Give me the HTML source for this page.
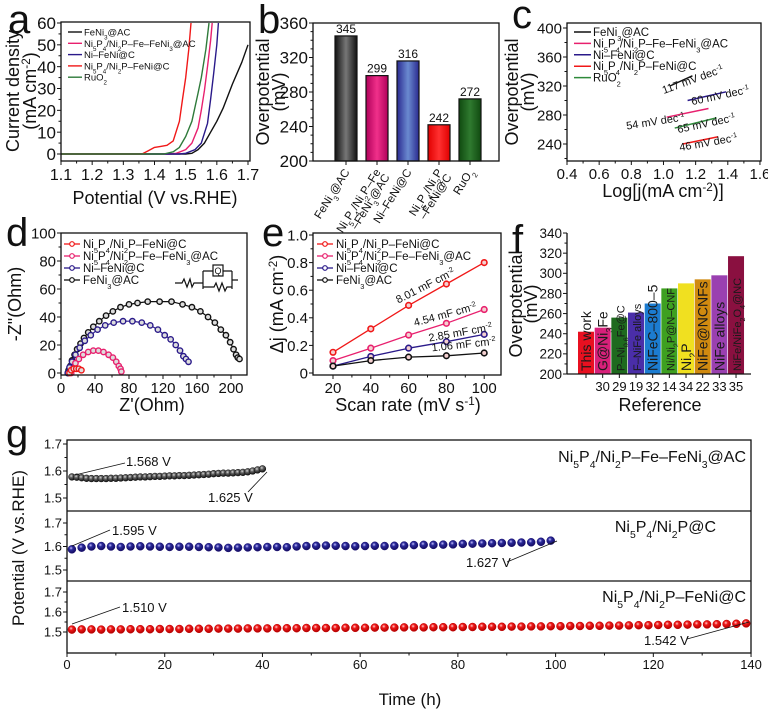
<!DOCTYPE html>
<html><head><meta charset="utf-8">
<style>
html,body{margin:0;padding:0;background:#fff;}
svg{display:block;font-family:"Liberation Sans",Arial,sans-serif;}
</style></head>
<body>
<svg id="chart" width="768" height="711" viewBox="0 0 768 711" xmlns="http://www.w3.org/2000/svg">
<defs>
<radialGradient id="gk" cx="40%" cy="35%" r="65%"><stop offset="0" stop-color="#ddd"/><stop offset="0.35" stop-color="#666"/><stop offset="1" stop-color="#111"/></radialGradient>
<radialGradient id="gb" cx="40%" cy="35%" r="65%"><stop offset="0" stop-color="#c8c0ff"/><stop offset="0.35" stop-color="#2a2a9a"/><stop offset="1" stop-color="#140a60"/></radialGradient>
<radialGradient id="gr" cx="40%" cy="35%" r="65%"><stop offset="0" stop-color="#ffd0d0"/><stop offset="0.35" stop-color="#f01818"/><stop offset="1" stop-color="#b00000"/></radialGradient>
<linearGradient id="bk"><stop offset="0" stop-color="#111"/><stop offset="0.5" stop-color="#777"/><stop offset="1" stop-color="#111"/></linearGradient>
<linearGradient id="bm"><stop offset="0" stop-color="#b0005a"/><stop offset="0.5" stop-color="#f0308a"/><stop offset="1" stop-color="#b0005a"/></linearGradient>
<linearGradient id="bb"><stop offset="0" stop-color="#2a2a90"/><stop offset="0.5" stop-color="#6a8ad0"/><stop offset="1" stop-color="#2a2a90"/></linearGradient>
<linearGradient id="br"><stop offset="0" stop-color="#e00000"/><stop offset="0.5" stop-color="#ff3030"/><stop offset="1" stop-color="#e00000"/></linearGradient>
<linearGradient id="bg"><stop offset="0" stop-color="#104a10"/><stop offset="0.5" stop-color="#2f7a2f"/><stop offset="1" stop-color="#104a10"/></linearGradient>
</defs>
</svg>
<script>
// ---------- DATA ----------
const aNames = ['FeNi_3@AC','Ni_5P_4/Ni_2P–Fe–FeNi_3@AC','Ni–FeNi@C','Ni_5P_4/Ni_2P–FeNi@C','RuO_2'];
const aBlackV = [1.1,1.5,1.52,1.54,1.56,1.58,1.60,1.62,1.65,1.68,1.70];
const aBlackJ = [0,0,0.3,2,5,10,15,21,32,42,50];
const aPinkV = [1.1,1.45,1.47,1.50,1.52,1.54,1.55,1.56,1.57,1.58,1.585];
const aPinkJ = [0,0,0.3,2,5,12,20,29,40,52,60];
const aBlueV = [1.1,1.48,1.50,1.53,1.55,1.57,1.58,1.59,1.60,1.605];
const aBlueJ = [0,0,0.3,2,5,14,25,37,50,60];
const aRedV = [1.1,1.36,1.38,1.40,1.42,1.44,1.46,1.48,1.49,1.50,1.51,1.517];
const aRedJ = [0,0,1.5,3,3.5,4,6,15,25,35,48,60];
const aGreenV = [1.1,1.43,1.46,1.48,1.50,1.52,1.54,1.55,1.565,1.575];
const aGreenJ = [0,0,1,3,8,15,28,35,48,60];
const bCats = ['FeNi_3@AC','Ni_5P_4/Ni_2P–Fe|–FeNi_3@AC','Ni–FeNi@C','Ni_5P_4/Ni_2P|–FeNi@C','RuO_2'];
const bVals = [345,299,316,242,272];
const cX0 = [1.04,1.02,1.15,1.12,1.07];
const cX1 = [1.18,1.28,1.39,1.34,1.33];
const cY0 = [320,277,300,240,262];
const cY1 = [334,289,312,250,276];
const cSlopes = ['117','54','60','46','65'];
const dRedX = [10,12,15,18,21,24];
const dRedY = [0,2,3,3,3,2];
const dPinkX = [12,14,17,21,26,32,38,44,50,56,61,65,68,70,71];
const dPinkY = [0,3,7,10,13,15,16,16,15,13,11,8,5,3,1];
const dBlueX = [8,10,13,17,22,28,35,43,52,62,73,84,95,105,114,122,129,135,140,144,147,150];
const dBlueY = [0,4,8,13,18,23,27,31,34,36,37,37,36,34,31,27,24,20,16,12,10,8];
const dBlackX = [8,9,11,13,16,19,23,27,32,38,45,53,61,70,80,90,102,116,130,143,154,164,173,181,188,194,199,203,206,208,210];
const dBlackY = [0,2,5,9,13,17,21,25,29,33,37,41,44,47,49,50,51,51,51,49,47,44,40,36,31,27,22,17,13,11,10];
const eRates = [20,40,60,80,100];
const eRed = [0.15,0.32,0.49,0.645,0.80];
const ePink = [0.09,0.18,0.275,0.36,0.46];
const eBlue = [0.05,0.12,0.18,0.227,0.28];
const eBlack = [0.05,0.09,0.115,0.125,0.145];
const eCdl = ['8.01','4.54','2.85','1.06'];
const fLabels = ['This work','G@Ni_3Fe','P–Ni_{0.6}Fe@C','F–NiFe alloys','NiFeC–800–5','Ni/Ni_2P@N–CNF','Ni_2P','NiFe@NCNFs','NiFe alloys','NiFe/NiFe_2O_4@NC'];
const fRefs = ['','30','29','19','32','14','34','22','33','35'];
const fVals = [242,246,256,261,270,285,290,294,298,317];
const gBlack = [1.578,1.577,1.575,1.573,1.572,1.572,1.572,1.572,1.573,1.573,1.574,1.575,1.576,1.577,1.578,1.578,1.579,1.580,1.580,1.581,1.582,1.582,1.583,1.583,1.584,1.585,1.586,1.587,1.588,1.590,1.591,1.592,1.592,1.593,1.594,1.595,1.597,1.600,1.604,1.608];
const gBlue = [1.588,1.595,1.600,1.602,1.600,1.598,1.600,1.601,1.600,1.599,1.598,1.599,1.599,1.598,1.597,1.596,1.594,1.595,1.596,1.597,1.598,1.598,1.597,1.600,1.602,1.603,1.604,1.603,1.602,1.601,1.602,1.603,1.602,1.603,1.604,1.606,1.607,1.607,1.608,1.609,1.611,1.612,1.613,1.614,1.615,1.616,1.617,1.618,1.620,1.625];
const gRed = [1.512,1.513,1.513,1.512,1.513,1.513,1.514,1.514,1.514,1.515,1.515,1.515,1.516,1.516,1.516,1.517,1.517,1.517,1.518,1.518,1.518,1.519,1.519,1.519,1.520,1.520,1.520,1.520,1.521,1.521,1.521,1.522,1.522,1.522,1.523,1.523,1.523,1.524,1.524,1.524,1.525,1.525,1.526,1.526,1.526,1.527,1.527,1.528,1.528,1.529,1.529,1.530,1.530,1.531,1.531,1.532,1.532,1.533,1.534,1.534,1.535,1.536,1.536,1.537,1.538,1.538,1.539,1.540,1.541,1.543];
const gNames = ['Ni_5P_4/Ni_2P–Fe–FeNi_3@AC','Ni_5P_4/Ni_2P@C','Ni_5P_4/Ni_2P–FeNi@C'];

// ---------- HELPERS ----------
const NS='http://www.w3.org/2000/svg';
const S=document.getElementById('chart');
function el(tag, attrs, name, parent){
  const e=document.createElementNS(NS,tag);
  for(const k in attrs) e.setAttribute(k, attrs[k]);
  
  
  (parent||S).appendChild(e);
  return e;
}
function fmt(s){
  s=s.replace(/&/g,'&amp;');
  s=s.replace(/_\{([^}]*)\}/g,'<tspan baseline-shift="sub" font-size="65%">$1</tspan>');
  s=s.replace(/_(\S)/g,'<tspan baseline-shift="sub" font-size="65%">$1</tspan>');
  s=s.replace(/\^\{([^}]*)\}/g,'<tspan baseline-shift="super" font-size="65%">$1</tspan>');
  return s;
}
function txt(x,y,s,size,anchor,name,rot,fill,parent){
  const t=el('text',{x:x,y:y,'font-size':size,'text-anchor':anchor||'start',fill:fill||'#111'},name,parent);
  if(rot) t.setAttribute('transform','rotate('+rot+' '+x+' '+y+')');
  t.innerHTML=fmt(s);
  return t;
}
function line(x1,y1,x2,y2,stroke,w,name){
  return el('line',{x1:x1,y1:y1,x2:x2,y2:y2,stroke:stroke,'stroke-width':w},name);
}
function box(x0,y0,x1,y1,name){
  return el('rect',{x:x0,y:y0,width:x1-x0,height:y1-y0,fill:'none',stroke:'#111','stroke-width':1.3},name);
}
function poly(xs,ys,sx,sy,color,w,name){
  const pts=xs.map((v,i)=>sx(v).toFixed(1)+','+sy(ys[i]).toFixed(1)).join(' ');
  return el('polyline',{points:pts,fill:'none',stroke:color,'stroke-width':w,'stroke-linejoin':'round'},name);
}
function xTicks(vals,sx,y,labels,size,name,minor){
  vals.forEach((v,i)=>{
    line(sx(v),y,sx(v),y+4,'#111',1,name+'-tick');
    txt(sx(v),y+size+3,labels[i],size,'middle',name+'-label');
  });
  (minor||[]).forEach(v=>line(sx(v),y,sx(v),y+2.5,'#111',1,name+'-minor-tick'));
}
function yTicks(vals,sy,x,labels,size,name,minor){
  vals.forEach((v,i)=>{
    line(x-4,sy(v),x,sy(v),'#111',1,name+'-tick');
    txt(x-5,sy(v)+size*0.36,labels[i],size,'end',name+'-label');
  });
  (minor||[]).forEach(v=>line(x-2.5,sy(v),x,sy(v),'#111',1,name+'-minor-tick'));
}
function letter(x,y,s,name){ txt(x,y,s,40,'start',name); }

// ---------- PANEL A ----------
(function(){
  const xA=v=>61+(v-1.1)/0.6*187, yA=v=>154-v/60*131;
  letter(8,33,'a','panel-a-letter');
  const cols=['#111','#e8206e','#2a1a8a','#f01818','#2e7a3a'];
  const VX=[aBlackV,aPinkV,aBlueV,aRedV,aGreenV], JY=[aBlackJ,aPinkJ,aBlueJ,aRedJ,aGreenJ];
  const clip=el('clipPath',{id:'ca'},'clip-a');
  el('rect',{x:61,y:22,width:189,height:139},'clip-a-rect',clip);
  const g=el('g',{'clip-path':'url(#ca)'},'lsv-curves');
  VX.forEach((xs,i)=>{ g.appendChild(poly(xs,JY[i],xA,yA,cols[i],1.4,'lsv-curve')); });
  box(61,22,250,161,'panel-a-plot-area');
  xTicks([1.1,1.2,1.3,1.4,1.5,1.6,1.7],xA,161,['1.1','1.2','1.3','1.4','1.5','1.6','1.7'],16,'a-x',[1.15,1.25,1.35,1.45,1.55,1.65]);
  yTicks([0,10,20,30,40,50,60],yA,61,['0','10','20','30','40','50','60'],17,'a-y',[5,15,25,35,45,55]);
  txt(155,204,'Potential (V vs.RHE)',18,'middle','a-x-title');
  txt(19,91,'Current density',18,'middle','a-y-title',-90);
  txt(36,91,'(mA cm^{-2})',18,'middle','a-y-title-unit',-90);
  aNames.forEach((n,i)=>{
    const y=32+i*11.3;
    line(68,y,82,y,cols[i],1.4,'legend-a-swatch');
    txt(84,y+3.5,n,9.5,'start','legend-a-entry');
  });
})();

// ---------- PANEL B ----------
(function(){
  const bx=i=>346+i*31, yB=v=>161-(v-200)*0.8625;
  letter(258,33,'b','panel-b-letter');
  const fills=['url(#bk)','url(#bm)','url(#bb)','url(#br)','url(#bg)'];
  bVals.forEach((v,i)=>{
    el('rect',{x:bx(i)-11,y:yB(v),width:22,height:161-yB(v),fill:fills[i],stroke:'#111','stroke-width':1.2},'bar-'+i);
    txt(bx(i),yB(v)-3,String(v),12,'middle','bar-value-label');
  });
  box(313,23,499,161,'panel-b-plot-area');
  yTicks([200,240,280,320,360],yB,313,['200','240','280','320','360'],17,'b-y',[210,220,230,250,260,270,290,300,310,330,340,350]);
  bCats.forEach((c,i)=>{
    line(bx(i),161,bx(i),165,'#111',1,'b-x-tick');
    const parts=c.split('|');
    parts.forEach((p,k)=>{
      const ox=bx(i)+4+k*9, oy=172+k*5;
      txt(ox,oy,p,11.5,'end','b-x-label',-58);
    });
  });
  txt(269,92,'Overpotential',18,'middle','b-y-title',-90);
  txt(285,92,'(mV)',18,'middle','b-y-title-unit',-90);
})();

// ---------- PANEL C ----------
(function(){
  const xC=v=>567+(v-0.4)*160.8, yC=v=>28+(400-v)*0.725;
  letter(512,28,'c','panel-c-letter');
  const cols=['#111','#e8206e','#2a1a8a','#f01818','#2e8a3a'];
  cX0.forEach((x0,i)=>{
    line(xC(x0),yC(cY0[i]),xC(cX1[i]),yC(cY1[i]),cols[i],1.5,'tafel-line');
  });
  const lp=[[694,83,-20],[656,125,-9],[721,99,-12],[709,146,-10],[707,127,-12]];
  cSlopes.forEach((s,i)=>{
    txt(lp[i][0],lp[i][1],s+' mV dec^{-1}',11,'middle','tafel-slope-label',lp[i][2]);
  });
  box(567,23,761,161,'panel-c-plot-area');
  xTicks([0.4,0.6,0.8,1.0,1.2,1.4,1.6],xC,161,['0.4','0.6','0.8','1.0','1.2','1.4','1.6'],15,'c-x',[0.5,0.7,0.9,1.1,1.3,1.5]);
  yTicks([240,280,320,360,400],yC,567,['240','280','320','360','400'],15,'c-y',[220,260,300,340,380]);
  txt(663,197,'Log[j(mA cm^{-2})]',18,'middle','c-x-title');
  txt(518,92,'Overpotential',18,'middle','c-y-title',-90);
  txt(534,92,'(mV)',18,'middle','c-y-title-unit',-90);
  aNames.forEach((n,i)=>{
    const y=32+i*11.4;
    line(574,y,591,y,cols[i],1.5,'legend-c-swatch');
    txt(593,y+4,n,11.5,'start','legend-c-entry');
  });
})();

// ---------- PANEL D ----------
(function(){
  const xD=v=>61+v*0.85, yD=v=>373-v*1.4;
  letter(6,246,'d','panel-d-letter');
  const sets=[[dBlackX,dBlackY,'#111'],[dBlueX,dBlueY,'#2a1a8a'],[dPinkX,dPinkY,'#e8206e'],[dRedX,dRedY,'#f01818']];
  sets.forEach((s)=>{
    poly(s[0],s[1],xD,yD,s[2],1.2,'nyquist-curve');
    s[0].forEach((x,j)=>{
      el('circle',{cx:xD(x),cy:yD(s[1][j]),r:2.7,fill:'#ddd',stroke:s[2],'stroke-width':1.4},'nyquist-point');
    });
  });
  box(61,233,247,375,'panel-d-plot-area');
  xTicks([0,40,80,120,160,200],xD,375,['0','40','80','120','160','200'],15,'d-x',[20,60,100,140,180]);
  yTicks([0,20,40,60,80,100],yD,61,['0','20','40','60','80','100'],15,'d-y',[10,30,50,70,90]);
  txt(152,411,"Z'(Ohm)",18,'middle','d-x-title');
  txt(21,304,'-Z"(Ohm)',18,'middle','d-y-title',-90);
  const names=['Ni_5P_4/Ni_2P–FeNi@C','Ni_5P_4/Ni_2P–Fe–FeNi_3@AC','Ni–FeNi@C','FeNi_3@AC'];
  const cols=['#f01818','#e8206e','#2a1a8a','#111'];
  names.forEach((n,i)=>{
    const y=244+i*12;
    line(64,y,80,y,cols[i],1.3,'legend-d-swatch');
    el('circle',{cx:72,cy:y,r:2.3,fill:'#fff',stroke:cols[i],'stroke-width':1.2},'legend-d-marker');
    txt(83,y+4,n,11.5,'start','legend-d-entry');
  });
  el('path',{d:'M175 283 H182 L184 279 L187 287 L190 279 L192 287 L194 283 H203 M203 271 V289 M203 271 H213 M223 271 H232 M203 287 H214 L216 283 L219 291 L222 283 L225 291 L227 287 H232 M232 271 V289 M232 280 H238',fill:'none',stroke:'#111','stroke-width':1.2},'equivalent-circuit');
  el('rect',{x:213,y:265,width:10,height:11,fill:'#fff',stroke:'#111','stroke-width':1.2},'cpe-box');
  txt(218,274,'Q',9,'middle','cpe-label');
})();

// ---------- PANEL E ----------
(function(){
  const xE=v=>333+(v-20)*1.89, yE=v=>373-v*138;
  letter(262,246,'e','panel-e-letter');
  const sets=[[eRed,'#f01818'],[ePink,'#e8206e'],[eBlue,'#2a1a8a'],[eBlack,'#111']];
  sets.forEach(s=>{
    poly(eRates,s[0],xE,yE,s[1],1.3,'cdl-line');
    eRates.forEach((r,j)=>el('circle',{cx:xE(r),cy:yE(s[0][j]),r:2.8,fill:'#f4d0d0',stroke:s[1],'stroke-width':1.6},'cdl-point'));
  });
  const lp=[[427,289,-27],[446,318,-15],[461,336,-10],[464,348,-6]];
  eCdl.forEach((c,i)=>txt(lp[i][0],lp[i][1],c+' mF cm^{-2}',11,'middle','cdl-label',lp[i][2]));
  box(313,233,501,375,'panel-e-plot-area');
  xTicks([20,40,60,80,100],xE,375,['20','40','60','80','100'],15,'e-x',[30,50,70,90]);
  yTicks([0,0.2,0.4,0.6,0.8,1.0],yE,313,['0','0.2','0.4','0.6','0.8','1.0'],15,'e-y',[0.1,0.3,0.5,0.7,0.9]);
  txt(408,411,'Scan rate (mV s^{-1})',18,'middle','e-x-title');
  txt(283,304,'Δj (mA cm^{-2})',18,'middle','e-y-title',-90);
  const names=['Ni_5P_4/Ni_2P–FeNi@C','Ni_5P_4/Ni_2P–Fe–FeNi_3@AC','Ni–FeNi@C','FeNi_3@AC'];
  const cols=['#f01818','#e8206e','#2a1a8a','#111'];
  names.forEach((n,i)=>{
    const y=244+i*12;
    line(317,y,333,y,cols[i],1.3,'legend-e-swatch');
    el('circle',{cx:325,cy:y,r:2.3,fill:'#fff',stroke:cols[i],'stroke-width':1.2},'legend-e-marker');
    txt(336,y+4,n,11.5,'start','legend-e-entry');
  });
})();

// ---------- PANEL F ----------
(function(){
  const fx=i=>586+i*16.67, yF=v=>374-(v-200)*1.007;
  txt(512,253,'f',40,'start','panel-f-letter');
  const cols=['#e81020','#d8207a','#1e6a1e','#4a2ea8','#1c7cd0','#3ea020','#f0e020','#d08a10','#9a40b0','#8a1040'];
  fVals.forEach((v,i)=>{
    el('rect',{x:fx(i)-8,y:yF(v),width:16,height:374-yF(v),fill:cols[i]},'ref-bar-'+i);
    const sz=fLabels[i].length>12?11:14;
    txt(fx(i)+5,371,fLabels[i],sz,'start','ref-bar-label',-90,'#1a1a1a');
    if(fRefs[i]) txt(fx(i),391,fRefs[i],13,'middle','ref-number-label');
  });
  line(567,374,751,374,'#111',1.3,'f-x-axis');
  line(567,233,567,374,'#111',1.3,'f-y-axis');
  fVals.forEach((v,i)=>line(fx(i),374,fx(i),378,'#111',1,'f-x-tick'));
  yTicks([200,220,240,260,280,300,320,340],yF,567,['200','220','240','260','280','300','320','340'],13.5,'f-y',[210,230,250,270,290,310,330]);
  txt(660,411,'Reference',18,'middle','f-x-title');
  txt(522,304,'Overpotential',18,'middle','f-y-title',-90);
  txt(537,304,'(mV)',18,'middle','f-y-title-unit',-90);
})();

// ---------- PANEL G ----------
(function(){
  const xG=v=>67+v*4.886;
  const y1=v=>444+(1.7-v)*270, y2=v=>523+(1.7-v)*235, y3=v=>592+(1.7-v)*200;
  letter(6,447,'g','panel-g-letter');
  const series=[[gBlack,1,1,y1,'url(#gk)','#111'],[gBlue,1,2,y2,'url(#gb)','#1a1070'],[gRed,1,2,y3,'url(#gr)','#c00000']];
  series.forEach((s)=>{
    s[0].forEach((v,j)=>{
      el('circle',{cx:xG(s[1]+j*s[2]),cy:s[3](v),r:s[2]===1?3.4:4,fill:s[4],stroke:s[5],'stroke-width':0.5},'stability-point');
    });
  });
  box(67,440,751,653,'panel-g-plot-area');
  line(67,511,751,511,'#111',1.3,'g-divider-1');
  line(67,581,751,581,'#111',1.3,'g-divider-2');
  [y1,y2,y3].forEach((sy,k)=>{
    yTicks([1.5,1.6,1.7],sy,67,['1.5','1.6','1.7'],13,'g-y'+k,[1.55,1.65]);
  });
  xTicks([0,20,40,60,80,100,120,140],xG,653,['0','20','40','60','80','100','120','140'],13,'g-x',[10,30,50,70,90,110,130]);
  txt(410,705,'Time (h)',17,'middle','g-x-title');
  txt(24,548,'Potential (V vs.RHE)',17,'middle','g-y-title',-90);
  txt(746,462,gNames[0],16,'end','g-series-label');
  txt(716,532,gNames[1],16,'end','g-series-label');
  txt(746,602,gNames[2],16,'end','g-series-label');
  const ann=[[75,475,125,463,126,466,'1.568 V'],[267,472,248,492,208,502,'1.625 V'],[72,546,110,530,112,535,'1.595 V'],[557,541,507,562,466,567,'1.627 V'],[72,624,120,607,122,612,'1.510 V'],[749,622,687,639,644,645,'1.542 V']];
  ann.forEach(a=>{
    line(a[0],a[1],a[2],a[3],'#111',0.8,'annotation-leader');
    txt(a[4],a[5],a[6],13,'start','annotation-label');
  });
})();
</script>
</body></html>
